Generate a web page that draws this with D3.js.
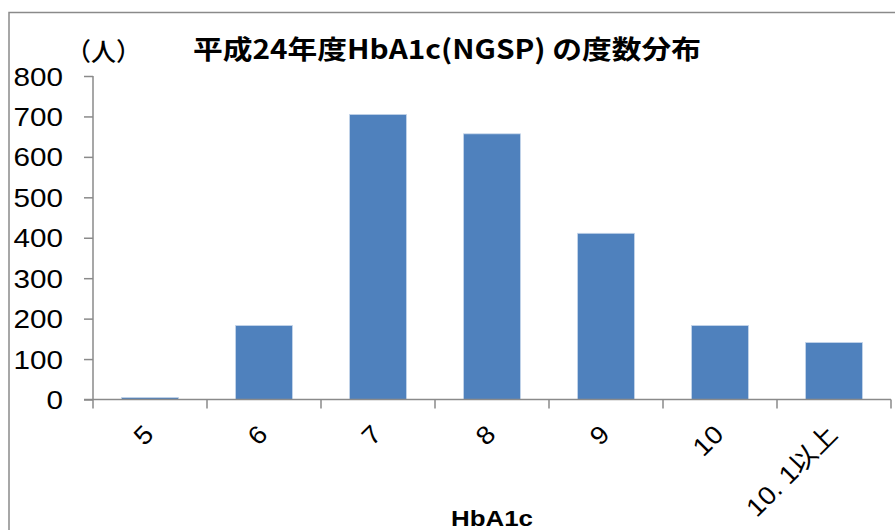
<!DOCTYPE html>
<html><head><meta charset="utf-8">
<script src="https://cdn.jsdelivr.net/npm/d3@7"></script>
<style>html,body{margin:0;padding:0;background:#fff;}svg{display:block;}</style>
</head><body>
<svg id="c" width="895" height="530"></svg>
<script>
const categories = ["5", "6", "7", "8", "9", "10", "10. 1以上"];
const counts = [5, 183, 705, 657, 411, 183, 141];
const yTicks = [0, 100, 200, 300, 400, 500, 600, 700, 800];
const titleText = "平成24年度HbA1c(NGSP) の度数分布";
const unitText = "（人）";
const xTitle = "HbA1c";

const svg = d3.select("#c");
const axisColor = "#8a8a8a";
const latin = "'Liberation Sans', Arial, 'Noto Sans CJK JP', sans-serif";
const cjk = "'Noto Sans CJK JP', 'Noto Sans', sans-serif";

// outer chart border
svg.append("rect").attr("x", 9).attr("y", 12.5).attr("width", 1000).attr("height", 1000)
  .attr("fill", "none").attr("stroke", axisColor).attr("stroke-width", 1.5);

const x = d3.scaleBand().domain(categories).range([93, 891]).paddingInner(0.5).paddingOuter(0.25);
const y = d3.scaleLinear().domain([0, 800]).range([399.5, 76]);

// bars
svg.append("g").selectAll("rect").data(categories).join("rect")
  .attr("x", d => x(d))
  .attr("y", (d, i) => y(counts[i]))
  .attr("width", x.bandwidth())
  .attr("height", (d, i) => y(0) - y(counts[i]))
  .attr("fill", "#4f81bd")
  .attr("stroke", "#c6d6ea").attr("stroke-width", 0.8);

// y axis
const yAxis = svg.append("g").attr("transform", "translate(93,0)")
  .call(d3.axisLeft(y).tickValues(yTicks).tickSize(9).tickFormat(""));
yAxis.select(".domain").attr("d", `M0,${y(800)}V${y(0)}`);
yAxis.selectAll("line, path").attr("stroke", axisColor).attr("stroke-width", 1.5);

yTicks.forEach(t => {
  svg.append("text")
    .attr("transform", `translate(63,${y(t) + 9.5}) scale(1.12,1)`)
    .attr("text-anchor", "end")
    .attr("font-family", latin).attr("font-size", 26.5).attr("fill", "#000")
    .text(t);
});

// x axis with boundary ticks
const xb = svg.append("g");
xb.append("line").attr("x1", 84).attr("x2", 891).attr("y1", y(0)).attr("y2", y(0))
  .attr("stroke", axisColor).attr("stroke-width", 1.5);
const bounds = categories.map(c => x(c) - x.step() * 0.25).concat([891]);
xb.selectAll("line.t").data(bounds).join("line").attr("class", "t")
  .attr("x1", d => d).attr("x2", d => d).attr("y1", y(0)).attr("y2", y(0) + 9)
  .attr("stroke", axisColor).attr("stroke-width", 1.5);

// x tick labels rotated
categories.forEach(c => {
  const cx = x(c) + x.bandwidth() / 2 + 5;
  svg.append("text")
    .attr("transform", `translate(${cx},436) rotate(-45) scale(1.08,1)`)
    .attr("text-anchor", "end")
    .attr("font-family", latin)
    .attr("font-size", 25.5).attr("fill", "#000")
    .text(c);
});

// title
svg.append("text").attr("x", 193).attr("y", 59)
  .attr("font-family", cjk).attr("font-weight", "bold").attr("font-size", 26.5)
  .attr("textLength", 508).attr("lengthAdjust", "spacingAndGlyphs")
  .attr("fill", "#000").text(titleText);

// unit
svg.append("text").attr("x", 66).attr("y", 61)
  .attr("font-family", cjk).attr("font-size", 25).attr("font-weight", 500)
  .attr("fill", "#000").text(unitText);

// x axis title
svg.append("text").attr("x", 451).attr("y", 526)
  .attr("font-family", latin).attr("font-weight", "bold").attr("font-size", 22.5)
  .attr("textLength", 82).attr("lengthAdjust", "spacingAndGlyphs")
  .attr("fill", "#000").text(xTitle);
</script>
</body></html>
